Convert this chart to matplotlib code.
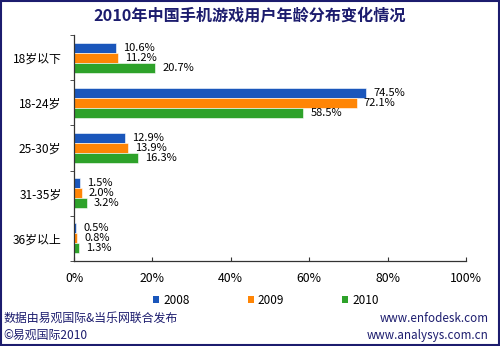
import matplotlib.pyplot as plt
from matplotlib.patches import Rectangle, Patch
import numpy as np

plt.rcParams['font.family'] = ['Noto Sans CJK SC', 'DejaVu Sans']

# data
categories = ['18岁以下', '18-24岁', '25-30岁', '31-35岁', '36岁以上']
years = ['2008', '2009', '2010']
v2008 = [10.6, 74.5, 12.9, 1.5, 0.5]
v2009 = [11.2, 72.1, 13.9, 2.0, 0.8]
v2010 = [20.7, 58.5, 16.3, 3.2, 1.3]
series = [v2008, v2009, v2010]
colors = ['#1a56bb', '#ff8505', '#2ea22a']
navy = '#1c1c6e'

W, H = 500, 346
fig = plt.figure(figsize=(5, 3.46), dpi=100)
ax = fig.add_axes([74/W, 1 - 261/H, (466 - 74)/W, (261 - 35)/H])

y = np.arange(len(categories))
bh = 0.222
for i, (vals, c) in enumerate(zip(series, colors)):
    pos = y + (i - 1) * bh
    ax.barh(pos, vals, height=bh, color=c, edgecolor='white', linewidth=0.4)
    for p, v in zip(pos, vals):
        ax.text(v + 1.8, p, '%.1f%%' % v, va='center', ha='left', fontsize=8)

ax.set_xlim(0, 100)
ax.set_ylim(len(categories) - 0.5, -0.5)
ax.set_xticks(np.arange(0, 101, 20))
ax.set_xticklabels(['%d%%' % t for t in range(0, 101, 20)], fontsize=8.8)
ax.tick_params(axis='x', direction='in', length=3, pad=8, color='#333333')
ax.set_yticks(y)
ax.set_yticklabels(categories, fontsize=8.6)
ax.tick_params(axis='y', which='major', length=0, pad=9)
ax.set_yticks(np.arange(-0.5, len(categories), 1), minor=True)
ax.tick_params(axis='y', which='minor', direction='out', length=3, color='#333333')
for s in ['top', 'right']:
    ax.spines[s].set_visible(False)
for s in ['left', 'bottom']:
    ax.spines[s].set_color('#333333')
    ax.spines[s].set_linewidth(0.9)

fig.text(0.5, 1 - 16/H, '2010年中国手机游戏用户年龄分布变化情况', ha='center', va='center',
         fontsize=11.6, fontweight='bold', color=navy)

handles = [Patch(facecolor=c, edgecolor='none') for c in colors]
fig.legend(handles, years, loc='center', bbox_to_anchor=(266/W, 1 - 300/H), ncol=3,
           frameon=False, fontsize=8.5, handlelength=0.5, handleheight=0.5,
           handletextpad=0.35, columnspacing=4.9)

fig.text(3/W, 1 - 318/H, '数据由易观国际&当乐网联合发布', ha='left', va='center', fontsize=8.6, color=navy)
fig.text(3/W, 1 - 335/H, '©易观国际2010', ha='left', va='center', fontsize=8.6, color=navy)
fig.text(489/W, 1 - 318/H, 'www.enfodesk.com', ha='right', va='center', fontsize=8.4, color=navy)
fig.text(489/W, 1 - 335/H, 'www.analysys.com.cn', ha='right', va='center', fontsize=8.4, color=navy)

fig.patches.append(Rectangle((0.002, 0.003), 0.996, 0.994, transform=fig.transFigure,
                             fill=False, edgecolor=navy, linewidth=1.5))

fig.savefig('out.png', dpi=100)
